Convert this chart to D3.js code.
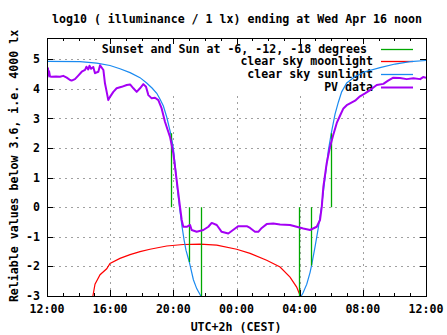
<!DOCTYPE html>
<html><head><meta charset="utf-8">
<script src="https://cdn.jsdelivr.net/npm/d3@7/dist/d3.min.js"></script>
<style>
html,body{margin:0;padding:0;background:#fff;}
svg text{font-family:"DejaVu Sans Mono",monospace;font-weight:bold;font-size:11.6px;fill:#000;}
</style></head><body>
<svg id="c" width="447" height="335"></svg>
<script>
// hours after 12:00 (Tue) up to 12:00 (Wed)
const xTickHours = [0, 4, 8, 12, 16, 20, 24];
const xTickLabels = ["12:00", "16:00", "20:00", "00:00", "04:00", "08:00", "12:00"];
const yTicks = [-3, -2, -1, 0, 1, 2, 3, 4, 5];

const sunH = [0,2.09,3.15,3.99,4.62,5.26,5.89,6.31,6.65,6.95,7.16,7.37,7.58,7.83,8.0,8.14,8.26,8.39,8.55,8.68,8.8,9.01,9.27,9.48,9.69,9.78,
  16.05,16.21,16.45,16.66,16.78,16.97,17.18,17.38,17.61,17.81,18.0,18.24,18.45,18.66,18.98,19.51,20.14,21.09,22.04,22.99,24.0];
const sunV = [4.93,4.92,4.87,4.79,4.68,4.55,4.38,4.2,4.03,3.85,3.65,3.42,3.05,2.5,2.0,1.3,0.6,0.0,-0.65,-1.1,-1.45,-1.85,-2.45,-2.75,-2.95,-3.05,
  -3.05,-2.9,-2.6,-2.2,-1.9,-1.35,-0.7,0.0,1.0,1.9,2.5,3.15,3.55,3.9,4.2,4.42,4.58,4.72,4.84,4.92,4.96];

const moonH = [2.89,3.04,3.36,3.78,3.99,4.62,5.26,5.89,6.52,7.58,8.63,9.69,10.75,12.01,12.86,13.91,14.76,15.39,15.81,15.96,16.13];
const moonV = [-3.05,-2.6,-2.28,-2.08,-1.9,-1.73,-1.6,-1.5,-1.42,-1.31,-1.26,-1.25,-1.28,-1.42,-1.56,-1.79,-2.02,-2.36,-2.7,-2.9,-3.05];

const eventH = [7.83, 9.01, 9.77, 15.98, 16.74, 18.0];
const eventV = [2.5, -1.85, -3.0, -3.0, -1.97, 2.5];

const pvH = [0,0.03,0.06,0.1,0.13,0.19,0.3,0.57,0.82,1.03,1.25,1.46,1.56,1.77,1.98,2.2,2.41,2.5,2.61,2.69,2.79,2.93,3.04,3.25,3.36,3.57,3.67,3.78,3.88,3.99,
  4.2,4.41,4.73,5.05,5.26,5.47,5.68,5.89,6.1,6.27,6.42,6.63,6.84,7.05,7.26,7.47,7.68,7.79,8.0,8.21,8.42,8.53,8.63,8.85,9.06,9.16,9.48,9.9,10.22,10.43,
  10.75,11.06,11.48,11.91,12.12,12.65,12.86,13.17,13.38,13.6,13.91,14.33,14.76,15.39,15.81,16.23,16.66,17.08,17.29,17.4,17.5,17.71,17.92,18.13,18.35,
  18.56,18.77,18.98,19.19,19.51,19.82,20.14,20.46,20.88,21.3,21.6,21.93,22.35,22.78,23.2,23.63,23.82,24.0];
const pvV = [4.58,4.4,4.7,4.45,4.6,4.42,4.41,4.42,4.41,4.44,4.38,4.3,4.28,4.33,4.45,4.58,4.64,4.75,4.66,4.78,4.68,4.74,4.53,4.58,4.8,4.64,4.19,3.9,3.62,3.73,
  3.9,4.02,4.07,4.13,4.15,4.02,3.9,4.02,4.16,4.07,3.79,3.68,3.7,3.62,3.34,2.89,2.55,2.38,1.82,0.92,0.02,-0.43,-0.66,-0.66,-0.6,-0.77,-0.83,-0.77,-0.66,-0.53,
  -0.6,-0.83,-0.89,-0.72,-0.64,-0.64,-0.7,-0.83,-0.83,-0.7,-0.57,-0.55,-0.58,-0.6,-0.66,-0.72,-0.77,-0.66,-0.43,0.02,0.69,1.48,2.04,2.45,2.85,
  3.1,3.34,3.45,3.51,3.6,3.75,3.85,3.96,4.13,4.17,4.28,4.38,4.37,4.33,4.36,4.33,4.4,4.38];

const legendLabels = ["Sunset and Sun at -6, -12, -18 degrees", "clear sky moonlight", "clear sky sunlight", "PV data"];
const colors = {event: "#00a800", moon: "#ff0000", sun: "#1a8af0", pv: "#a400f4"};

const L = 47, R = 426, T = 38, B = 296;
const x = d3.scaleLinear().domain([0, 24]).range([L, R]);
const y = d3.scaleLinear().domain([-3, 5.72]).range([B, T]);
const svg = d3.select("#c");

svg.append("defs").append("clipPath").attr("id", "clip")
  .append("rect").attr("x", L).attr("y", T).attr("width", R - L).attr("height", B - T);

// grid
const grid = svg.append("g").attr("stroke", "#a0a0a0").attr("stroke-dasharray", "2,4").attr("shape-rendering", "crispEdges");
grid.selectAll(".gx").data(xTickHours.slice(1, -1)).enter().append("line")
  .attr("x1", d => Math.round(x(d)) + 0.5).attr("x2", d => Math.round(x(d)) + 0.5).attr("y1", B).attr("y2", T);
grid.selectAll(".gy").data(yTicks.slice(1)).enter().append("line")
  .attr("y1", d => Math.round(y(d)) + 0.5).attr("y2", d => Math.round(y(d)) + 0.5).attr("x1", L).attr("x2", R);

// legend opaque box
svg.append("rect").attr("x", 98).attr("y", T + 1).attr("width", 322).attr("height", 54).attr("fill", "#fff");
const lg = svg.append("g");
legendLabels.forEach((t, i) => {
  const yy = 48.5 + i * 12.8;
  lg.append("text").attr("x", i === 0 ? 367 : 373).attr("y", yy).attr("dy", "0.35em").attr("text-anchor", "end").text(t);
  const c = [colors.event, colors.moon, colors.sun, colors.pv][i];
  lg.append("line").attr("x1", 381).attr("x2", 413).attr("y1", Math.round(yy) + 0.5).attr("y2", Math.round(yy) + 0.5)
    .attr("stroke", c).attr("stroke-width", i === 3 ? 2 : 1.3);
});

// data
const data = svg.append("g").attr("clip-path", "url(#clip)");
const line = d3.line().x(d => x(d[0])).y(d => y(d[1]));
data.append("path").datum(moonH.map((h, i) => [h, moonV[i]])).attr("d", line)
  .attr("fill", "none").attr("stroke", colors.moon).attr("stroke-width", 1.2);
data.append("path").datum(sunH.slice(0, 26).map((h, i) => [h, sunV[i]])).attr("d", line)
  .attr("fill", "none").attr("stroke", colors.sun).attr("stroke-width", 1.2);
data.append("path").datum(sunH.slice(26).map((h, i) => [h, sunV[i + 26]])).attr("d", line)
  .attr("fill", "none").attr("stroke", colors.sun).attr("stroke-width", 1.2);
data.selectAll(".ev").data(eventH.map((h, i) => [h, eventV[i]])).enter().append("line")
  .attr("x1", d => Math.round(x(d[0])) + 0.5).attr("x2", d => Math.round(x(d[0])) + 0.5)
  .attr("y1", y(0)).attr("y2", d => y(d[1])).attr("stroke", colors.event).attr("stroke-width", 1.3);
data.append("path").datum(pvH.map((h, i) => [h, pvV[i]])).attr("d", line)
  .attr("fill", "none").attr("stroke", colors.pv).attr("stroke-width", 2).attr("stroke-linejoin", "round");

// axes
const ax = svg.append("g").attr("shape-rendering", "crispEdges").attr("stroke", "#000");
ax.append("rect").attr("x", L + 0.5).attr("y", T + 0.5).attr("width", R - L).attr("height", B - T).attr("fill", "none").attr("stroke-width", 1.5);
const minor = d3.range(0, 25);
ax.selectAll(".mb").data(minor).enter().append("line")
  .attr("x1", d => Math.round(x(d)) + 0.5).attr("x2", d => Math.round(x(d)) + 0.5)
  .attr("y1", B).attr("y2", d => B - (d % 4 === 0 ? 6 : 3));
ax.selectAll(".mt").data(minor).enter().append("line")
  .attr("x1", d => Math.round(x(d)) + 0.5).attr("x2", d => Math.round(x(d)) + 0.5)
  .attr("y1", T).attr("y2", d => T + (d % 4 === 0 ? 6 : 3));
ax.selectAll(".yl").data(yTicks).enter().append("line")
  .attr("y1", d => Math.round(y(d)) + 0.5).attr("y2", d => Math.round(y(d)) + 0.5).attr("x1", L).attr("x2", L + 6);
ax.selectAll(".yr").data(yTicks).enter().append("line")
  .attr("y1", d => Math.round(y(d)) + 0.5).attr("y2", d => Math.round(y(d)) + 0.5).attr("x1", R - 6).attr("x2", R);

// tick labels
svg.selectAll(".xt").data(xTickHours).enter().append("text")
  .attr("x", d => x(d)).attr("y", 313).attr("text-anchor", "middle").text((d, i) => xTickLabels[i]);
svg.selectAll(".yt").data(yTicks).enter().append("text")
  .attr("x", 40).attr("y", d => y(d)).attr("dy", "0.35em").attr("text-anchor", "end").text(d => String(d));

svg.append("text").attr("x", 237).attr("y", 23).attr("text-anchor", "middle")
  .text("log10 ( illuminance / 1 lx) ending at Wed Apr 16 noon");
svg.append("text").attr("x", 236).attr("y", 331).attr("text-anchor", "middle").text("UTC+2h (CEST)");
svg.append("text").attr("transform", "translate(18,166) rotate(-90)").attr("text-anchor", "middle")
  .text("Reliable values below 3.6, i.e. 4000 lx");
</script></body></html>
